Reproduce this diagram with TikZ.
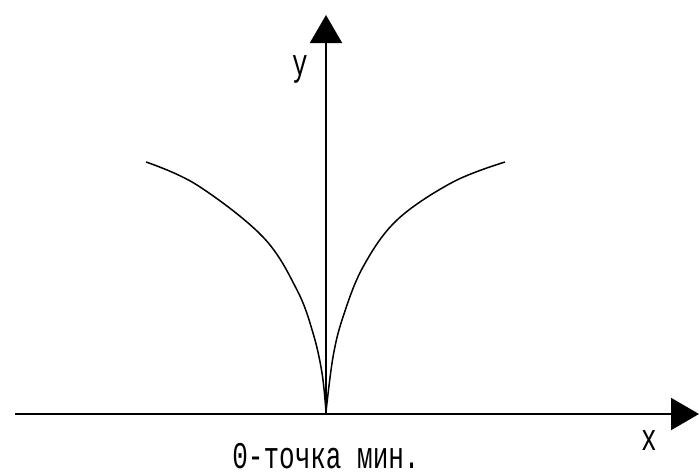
\documentclass[tikz,border=0pt]{standalone}
\usepackage{fontspec}
\usepackage{graphicx}
\setmonofont{Liberation Mono}
\usetikzlibrary{arrows.meta}
\tikzset{
  axis/.style={line width=2pt,-{Triangle[length=28pt,width=32pt]}},
  curve/.style={line width=1.5pt},
  lbl/.style={font=\ttfamily\fontsize{26}{26}\selectfont,inner sep=0pt}
}
\newcommand{\tallt}[1]{\scalebox{1}[1.45]{#1}}
\begin{document}
\begin{tikzpicture}[x=1pt,y=-1pt]
\useasboundingbox (0,0) rectangle (699,474);
\coordinate (xs) at (15,414);
\coordinate (xe) at (699,414);
\coordinate (O) at (326,414);
\coordinate (ye) at (326,15);
\draw[axis] (xs) -- (xe);
\draw[axis] (O) -- (ye);
\draw[curve] plot[smooth,tension=0.6] coordinates {(146,162) (197,185) (263,237) (297,290) (313,333) (322,373) (326,412)};
\draw[curve] plot[smooth,tension=0.6] coordinates {(326,412) (333,357) (343,317) (363,267) (397,220) (453,182) (505,162)};
\node[lbl,anchor=base] (ylab) at (300,75) {\tallt{y}};
\node[lbl,anchor=base] (xlab) at (649,450) {\tallt{x}};
\node[lbl,anchor=base] (minlab) at (326,468) {\tallt{0-точка мин.}};
\end{tikzpicture}
\end{document}
